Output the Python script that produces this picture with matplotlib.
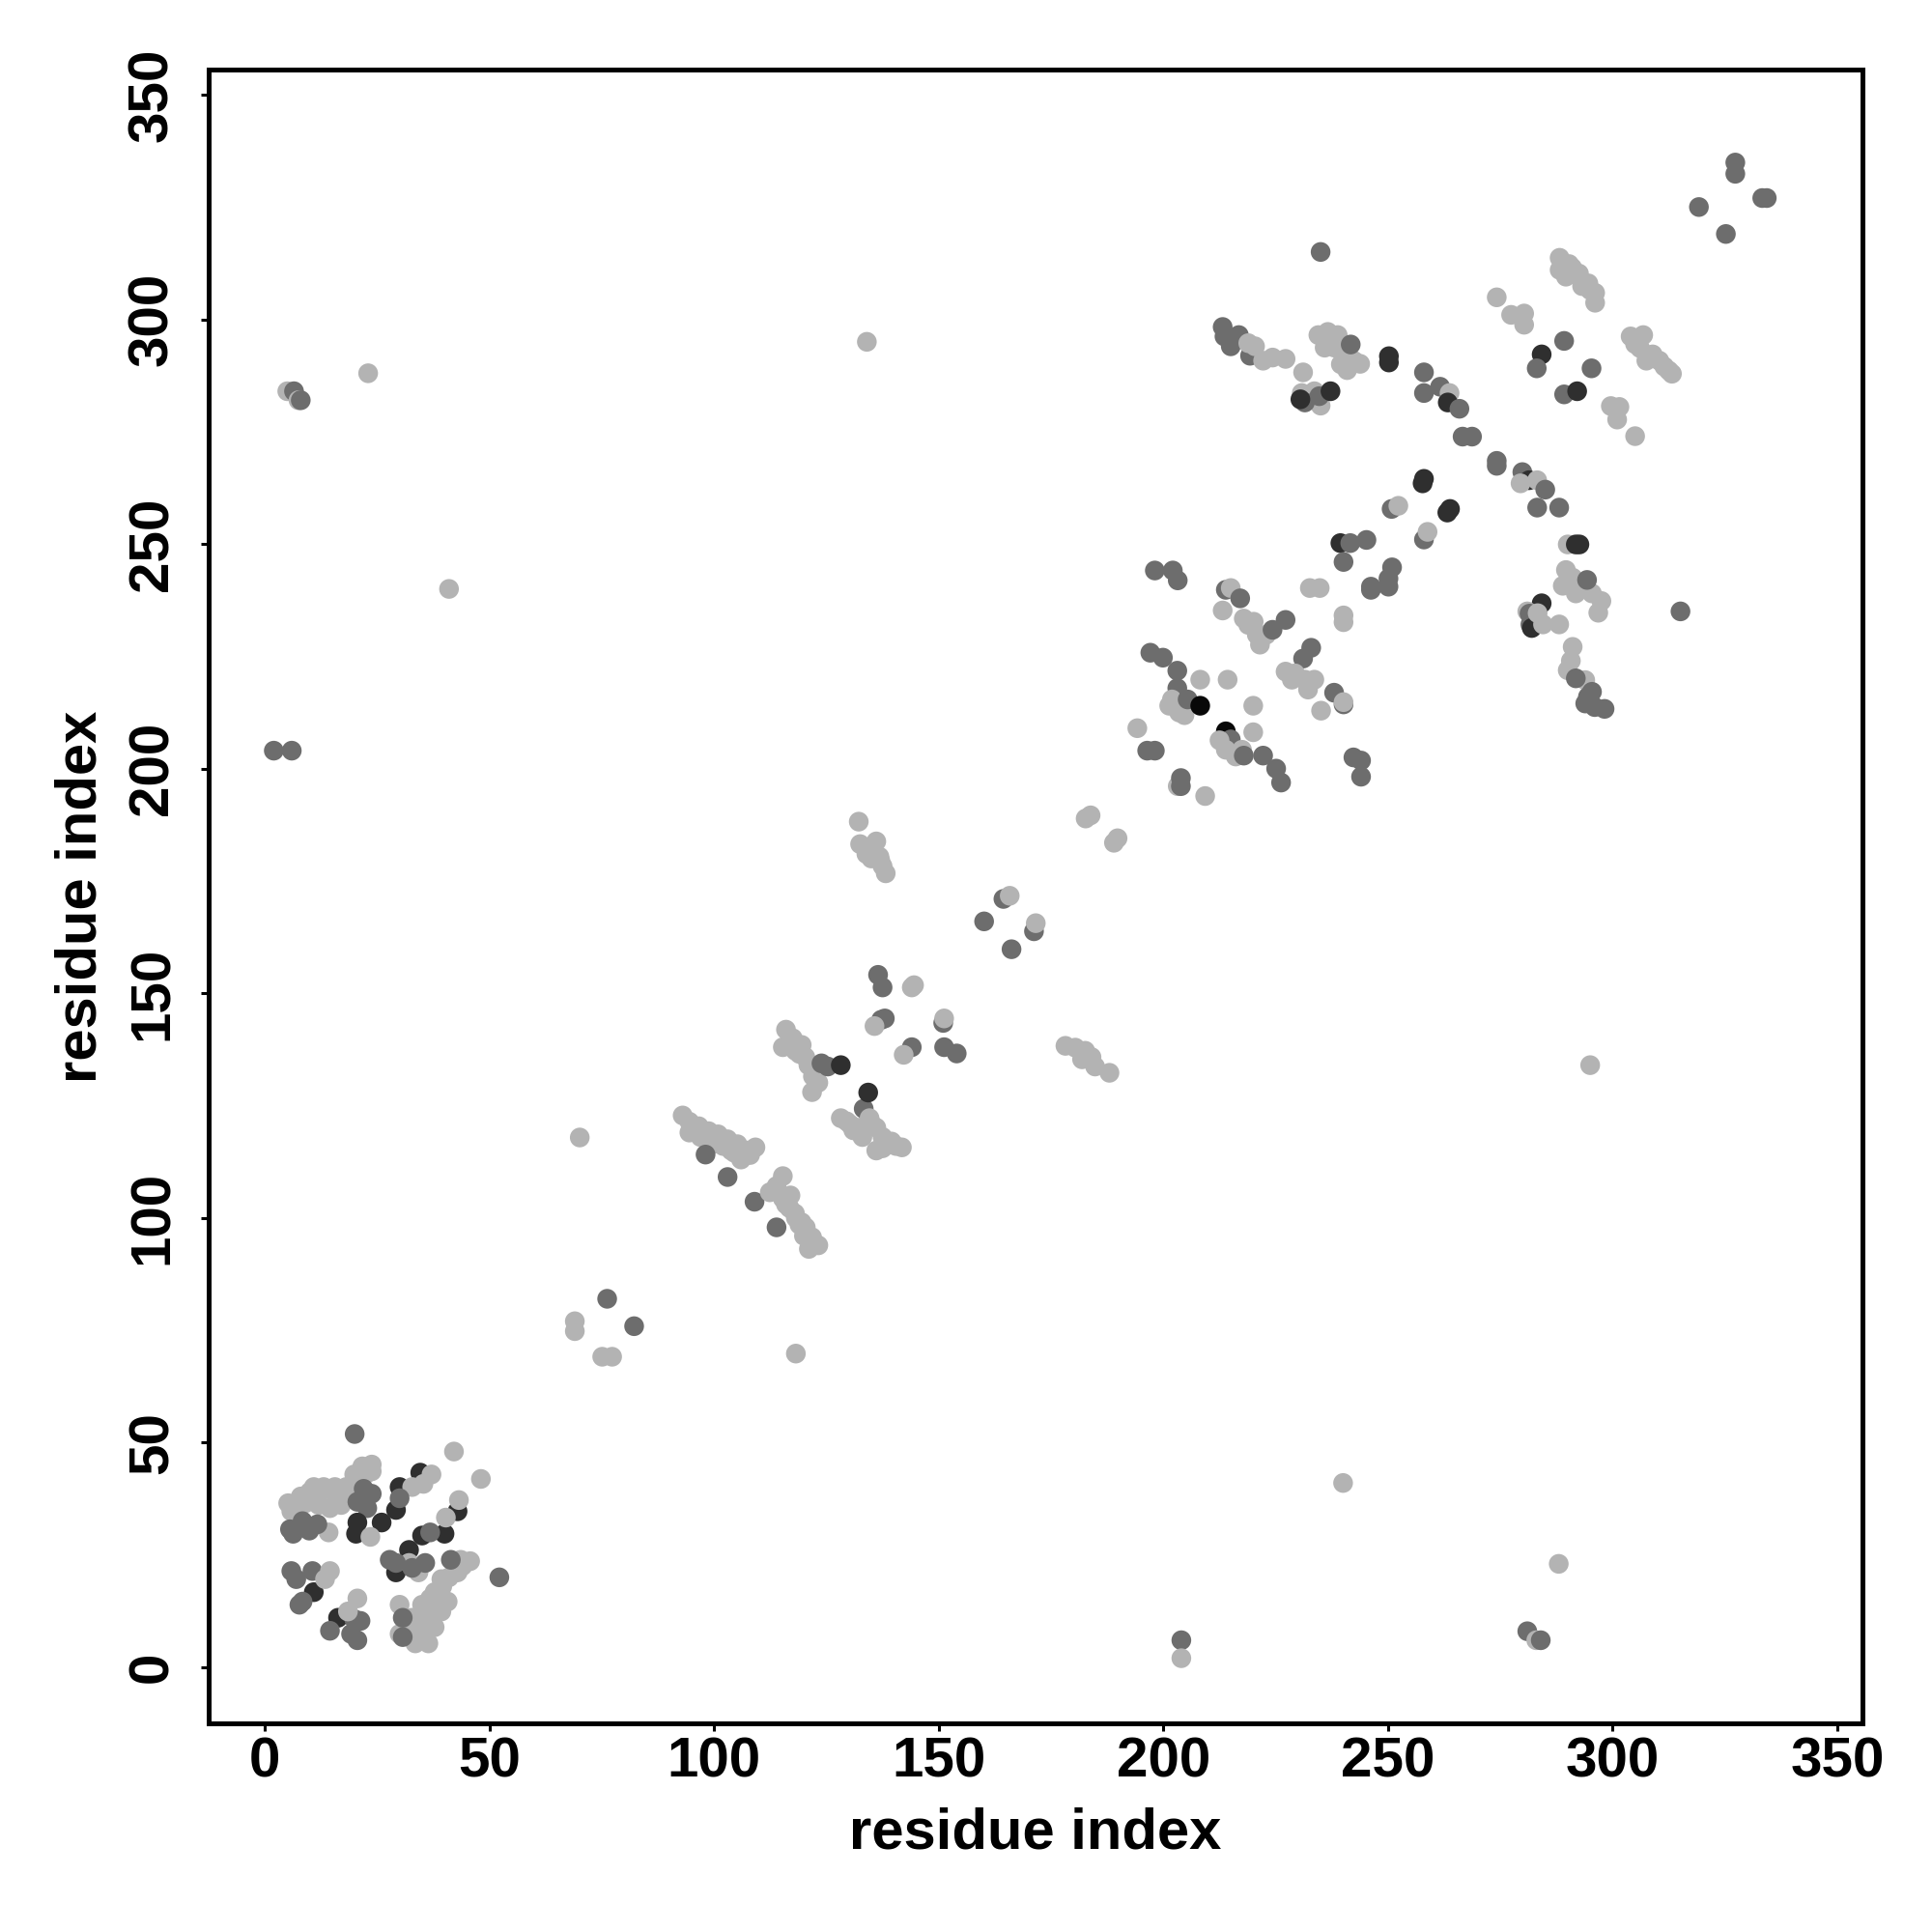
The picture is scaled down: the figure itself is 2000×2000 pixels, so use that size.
import matplotlib
matplotlib.use("Agg")
import matplotlib.pyplot as plt
import numpy as np

# shade codes: 0 light grey, 1 mid grey, 2 dark grey, 3 black
SHADES = ["#b3b3b3", "#6d6d6d", "#2f2f2f", "#080808"]

# N-terminal cluster (residues 0-55)
nterm_x = [5.2, 5.9, 7.7, 10.9, 13.1, 15.6, 18.1, 19.9, 21.7, 23.8, 23.8, 12.0, 14.5, 17.0, 18.5, 20.6, 14.2, 10.6,
           8.0, 10.0, 12.0, 16.0, 19.0, 21.0, 22.5, 7.0, 9.0,
           5.6, 6.3, 8.4, 9.9, 11.7, 22.0, 20.6, 22.8, 23.8,
           20.6, 20.3, 26.0, 29.2, 30.0, 34.6, 42.9, 40.0, 35.0, 32.1, 29.2, 10.9, 16.3,
           37.1, 32.8, 35.3, 43.2, 40.3, 23.5, 43.6, 45.7, 42.9, 39.3, 37.8, 39.3, 36.4, 35.0, 33.5, 36.4,
           30.0, 32.8, 35.0, 40.7, 34.2, 32.1, 36.8, 37.8, 30.0,
           34.0, 36.0, 38.0, 41.0, 44.0, 39.5, 33.5,
           30.0, 36.8, 29.2, 32.8, 41.4, 35.7, 30.7, 30.7, 52.2, 27.8,
           5.9, 7.0, 10.6, 8.4, 7.7, 19.9, 21.3, 14.5, 19.2, 20.6,
           14.5, 13.4, 18.5, 20.6,
           20.0, 42.1, 48.1]
nterm_y = [36.5, 34.7, 36.1, 40.1, 40.1, 40.1, 40.1, 42.9, 44.7, 45.1, 43.6, 36.1, 35.4, 36.1, 37.6, 39.0, 30.0, 37.9,
           38.0, 39.0, 38.5, 38.0, 38.0, 41.0, 43.0, 34.5, 36.5,
           30.7, 29.7, 32.5, 30.4, 31.8, 39.7, 36.8, 35.4, 38.6,
           32.2, 29.7, 32.2, 35.0, 40.1, 43.3, 34.7, 29.7, 29.3, 26.1, 21.1, 16.7, 11.0,
           42.9, 40.1, 40.8, 37.2, 33.3, 29.0, 23.9, 23.6, 21.1, 19.6, 16.7, 12.4, 10.3, 6.7, 5.3, 5.3,
           13.9, 11.0, 13.9, 14.6, 21.1, 23.2, 15.3, 8.9, 7.4,
           8.0, 12.0, 14.0, 20.0, 22.5, 18.0, 9.0,
           37.6, 30.0, 23.2, 22.1, 23.9, 23.2, 11.0, 6.7, 20.0, 23.9,
           21.4, 19.6, 21.4, 14.6, 13.9, 10.7, 10.3, 8.1, 7.4, 6.0,
           21.4, 19.6, 12.4, 15.3,
           51.9, 48.0, 41.9]
nterm_s = ([0] * 27 + [1] * 9 + [2] * 13 + [0] * 25 + [0] * 7
           + [1] * 10 + [1] * 10 + [0] * 4 + [1, 0, 0])

# middle segment (residues 65-190)
mid_x = [70.1, 69.0, 69.0, 75.1, 77.3, 118.2, 76.2, 82.2,
         93.0, 94.5, 96.6, 98.8, 100.9, 103.0, 105.2, 107.4, 109.2, 106.0, 103.8, 94.5, 97.0, 100.0,
         95.5, 99.5, 102.0, 104.5, 108.0,
         98.1, 103.0, 109.0,
         115.3, 113.9, 112.4, 115.3, 116.8, 118.2, 120.4, 121.8, 123.2, 121.1, 117.0, 119.0,
         114.0, 116.0, 118.0, 120.0, 122.0, 119.5, 113.9,
         116.0, 115.3, 118.1, 120.3, 122.5, 123.2, 121.8, 117.5, 119.5, 117.0, 119.0, 121.0, 122.0,
         123.9, 125.3, 133.3, 128.2, 134.3,
         128.2, 130.3, 132.5, 134.6, 136.1, 137.5, 138.9, 141.8, 136.1, 137.5, 133.0,
         129.5, 131.0, 135.0, 139.5, 140.5,
         132.2, 132.5, 134.6, 136.8, 137.5, 138.2, 136.1, 133.9, 135.0, 137.0,
         182.7, 183.8, 189.0, 189.8,
         164.4, 165.8, 160.1, 171.2, 171.6, 166.2, 136.5, 137.5, 144.0, 144.5,
         137.2, 138.0, 135.7, 151.0, 151.2, 144.0, 142.2, 151.2, 154.0,
         178.2, 180.4, 182.6, 184.0, 184.8, 181.9, 188.0]
mid_y = [117.9, 77.0, 74.8, 69.1, 69.1, 69.8, 82.0, 75.9,
         122.8, 121.4, 120.4, 119.3, 118.6, 117.5, 116.4, 115.0, 115.7, 113.0, 115.0, 119.0, 118.0, 116.5,
         120.5, 117.5, 116.0, 114.5, 114.0,
         114.1, 109.1, 103.6,
         109.3, 107.1, 105.7, 104.3, 102.2, 100.0, 97.9, 95.7, 93.9, 93.1, 105.0, 98.5,
         106.0, 103.0, 101.0, 96.0, 94.5, 99.0, 97.9,
         141.9, 138.0, 137.2, 135.8, 133.0, 130.1, 128.0, 140.0, 138.5, 139.0, 136.5, 134.0, 131.5,
         134.4, 133.7, 124.3, 134.0, 127.9,
         122.2, 120.8, 120.1, 122.2, 120.1, 118.0, 116.4, 115.7, 115.0, 115.5, 118.0,
         121.5, 119.5, 121.0, 117.0, 116.0,
         188.2, 183.2, 181.8, 180.4, 178.3, 176.7, 183.8, 181.0, 180.0, 179.5,
         188.9, 189.6, 183.5, 184.5,
         171.0, 171.7, 166.0, 163.8, 165.6, 159.8, 154.1, 151.3, 151.3, 151.8,
         144.1, 144.4, 142.7, 143.4, 144.4, 138.0, 136.3, 138.0, 136.6,
         138.3, 137.9, 137.2, 135.8, 133.7, 135.3, 132.3]
mid_s = ([0] * 6 + [1, 1] + [0] * 14 + [0] * 5 + [1] * 3 + [0] * 12 + [0] * 6 + [1]
         + [0] * 13 + [1, 1, 1, 2, 2] + [0] * 11 + [0] * 5
         + [0] * 10 + [0] * 4 + [1, 0, 1, 1, 0, 1, 1, 1, 0, 0]
         + [1, 1, 0, 1, 0, 1, 0, 1, 1] + [0] * 7)

# residues 190-250
c1_x = [198.1, 202.1, 203.2, 213.9, 215.0, 217.1, 213.2,
        217.9, 220.1, 220.8, 221.5, 218.9, 222.9, 224.3, 227.2, 232.6, 234.8, 240.1, 240.1,
        239.4, 241.6, 245.2, 240.1, 246.2, 250.1, 232.9, 231.1,
        227.2, 229.3, 231.5, 233.6, 232.2, 228.6, 238.0, 240.1, 240.1, 235.1,
        197.1, 199.9, 203.1, 208.2, 214.3, 203.1,
        201.9, 203.3, 204.7, 201.3, 203.5, 205.4, 208.2, 220.0, 194.2, 213.9, 215.0, 220.0,
        212.5, 213.9, 216.1, 217.5, 217.9, 222.2, 225.1, 226.2, 196.4, 198.1,
        203.2, 203.9, 203.9, 209.3, 242.3, 244.0, 244.0,
        250.9, 250.1, 246.2]
c1_y = [244.1, 244.1, 241.9, 239.8, 240.2, 237.9, 235.2,
        233.4, 232.7, 229.8, 227.6, 232.0, 229.8, 230.9, 233.1, 240.2, 240.2, 234.1, 232.6,
        250.2, 250.2, 250.9, 246.0, 239.8, 240.5, 226.9, 224.5,
        221.6, 221.2, 219.8, 219.8, 217.6, 219.8, 216.9, 214.3, 214.8, 212.9,
        225.8, 224.7, 221.8, 219.8, 219.8, 217.9,
        215.4, 214.0, 211.9, 214.0, 212.5, 215.4, 214.0, 214.0, 209.0, 208.3, 206.5, 208.1,
        206.3, 204.2, 202.7, 204.2, 202.9, 202.9, 200.0, 196.9, 204.0, 204.0,
        196.1, 197.9, 196.1, 193.9, 202.5, 201.8, 198.2,
        244.8, 242.3, 240.5]
c1_s = ([1, 1, 1, 1, 0, 1, 0]
        + [0] * 6 + [1, 1] + [0] * 4
        + [2, 1, 1, 1, 1, 1, 1, 1]
        + [0] * 6 + [1, 1, 0, 0]
        + [1, 1, 1, 0, 0, 1]
        + [0] * 5 + [1, 3, 0, 0, 3, 1, 0]
        + [0] * 4 + [1] * 6
        + [0, 1, 1, 0, 1, 1, 1]
        + [1, 1, 1])

# residues 210-300
c2_x = [213.2, 213.6, 216.8, 215.0, 219.3, 218.9, 220.4, 222.2, 224.3, 227.2, 231.1,
        230.8, 233.6, 235.0, 231.5, 234.7, 237.2, 230.5,
        234.5, 236.6, 238.8, 238.1, 240.2, 242.4, 243.8, 240.9, 235.9, 237.5, 239.5, 241.7,
        250.2, 250.2, 258.0, 258.0, 261.6, 263.7, 263.3, 265.9, 266.6, 268.7, 274.2, 274.2,
        279.9, 281.4, 283.2, 279.5, 285.0, 283.2, 288.1, 290.0, 291.8, 292.6,
        257.7, 258.0, 250.8, 252.3, 263.8, 263.2, 258.0, 258.8]
c2_y = [298.3, 296.2, 296.5, 294.0, 291.9, 294.7, 294.0, 290.8, 291.5, 291.2, 288.2,
        283.6, 284.0, 280.8, 281.5, 282.9, 284.0, 282.2,
        296.5, 297.2, 296.5, 293.7, 292.2, 290.8, 290.1, 288.7, 293.7, 295.0, 290.0, 294.4,
        291.8, 290.4, 288.2, 283.6, 285.0, 283.6, 281.5, 280.1, 273.9, 273.9, 267.4, 268.5,
        266.0, 264.2, 264.2, 263.5, 262.1, 258.1, 258.1, 249.9, 249.9, 249.9,
        263.5, 264.5, 257.8, 258.5, 257.8, 257.0, 251.0, 252.7]
c2_s = ([1] * 5 + [0] * 6
        + [0, 0, 0, 1, 1, 2, 2]
        + [0] * 11 + [1]
        + [2, 2, 1, 1, 1, 0, 2, 1, 1, 1, 1, 1]
        + [1, 2, 0, 0, 1, 1, 1, 0, 2, 2]
        + [2, 2, 1, 0, 2, 2, 1, 0])

# C-terminal block (residues 270-335)
c3_x = [327.3, 327.3, 333.3, 334.3, 319.2, 325.2,
        288.2, 290.3, 292.5, 294.6, 296.1, 296.1, 288.2, 293.2, 289.6, 291.0, 295.0,
        274.2, 277.4, 280.3, 280.3, 289.2, 284.2, 283.1, 295.3, 289.2, 292.1,
        304.0, 306.8, 306.1, 308.9, 310.4, 312.5, 313.2, 307.5, 305.0, 311.5,
        299.6, 301.5, 301.0, 305.0,
        289.6, 291.1, 293.2, 295.4, 297.5, 296.8, 288.9, 291.8, 294.3,
        284.2, 281.0, 281.5, 281.7, 282.0, 284.5, 288.1, 283.3, 315.1,
        291.1, 290.7, 290.0, 293.9, 291.8, 295.4, 293.9, 296.0, 298.2, 294.5]
c3_y = [334.9, 332.4, 327.0, 327.0, 325.0, 319.0,
        313.7, 312.3, 310.2, 308.0, 305.9, 303.7, 311.0, 307.4, 309.5, 311.5, 306.5,
        304.9, 301.0, 301.3, 298.8, 295.2, 292.2, 289.1, 289.1, 283.3, 284.0,
        296.2, 296.5, 293.6, 292.2, 290.8, 288.6, 287.9, 290.8, 294.5, 289.5,
        280.7, 280.5, 277.7, 274.0,
        244.2, 242.5, 240.7, 239.0, 237.3, 234.7, 240.7, 239.0, 242.0,
        236.8, 235.0, 234.5, 232.1, 231.3, 232.1, 232.1, 234.6, 235.0,
        227.1, 224.0, 221.9, 219.7, 220.1, 217.1, 214.5, 213.7, 213.3, 216.0]
c3_s = ([1] * 6 + [0] * 11
        + [0, 0, 0, 0, 1, 2, 1, 1, 1, 2]
        + [0] * 10 + [0] * 4
        + [0] * 8 + [1]
        + [2, 0, 1, 1, 2, 0, 0, 0, 1]
        + [0, 0, 0, 0, 1, 1, 1, 1, 1, 1])

# long-range isolated contacts
far_x = [5.0, 6.5, 7.5, 8.0, 23.0, 2.0, 6.0, 41.0, 134.0, 295.0, 240.0, 288.0,
         204.0, 204.0, 281.0, 283.0, 284.0, 235.0]
far_y = [284.0, 284.0, 282.0, 282.0, 288.0, 204.0, 204.0, 240.0, 295.0, 134.0, 41.0, 23.0,
         6.0, 2.0, 8.0, 6.0, 6.0, 315.0]
far_s = [0, 1, 0, 1, 0, 1, 1, 0, 0, 0, 0, 0, 1, 0, 1, 0, 1, 1]

x = np.array(nterm_x + mid_x + c1_x + c2_x + c3_x + far_x)
y = np.array(nterm_y + mid_y + c1_y + c2_y + c3_y + far_y)
s = nterm_s + mid_s + c1_s + c2_s + c3_s + far_s
colors = [SHADES[k] for k in s]

plt.rcParams["font.family"] = ["Liberation Sans", "DejaVu Sans"]
plt.rcParams["font.weight"] = "bold"

fig = plt.figure(figsize=(10, 10), dpi=200)
ax = fig.add_axes([0.108, 0.108, 0.856, 0.856])
ax.scatter(x, y, s=54, c=colors, linewidths=0, zorder=3)

ax.set_xlim(-12.5, 355.6)
ax.set_ylim(-12.5, 355.6)
ticks = [0, 50, 100, 150, 200, 250, 300, 350]
ax.set_xticks(ticks)
ax.set_yticks(ticks)
ax.tick_params(axis="both", length=3, width=1.1, labelsize=21, direction="out")
ax.tick_params(axis="x", pad=2)
ax.tick_params(axis="y", pad=8)
for lab in ax.get_yticklabels():
    lab.set_rotation(90)
    lab.set_va("center")
for lab in ax.get_xticklabels() + ax.get_yticklabels():
    lab.set_fontweight("bold")
for spine in ax.spines.values():
    spine.set_linewidth(1.8)

fig.text(0.536, 0.0435, "residue index", fontsize=21.5, fontweight="bold",
         ha="center", va="baseline")
fig.text(0.05, 0.536, "residue index", fontsize=21.5, fontweight="bold",
         ha="center", va="baseline", rotation=90, rotation_mode="anchor")

fig.savefig("out.png", dpi=200)
